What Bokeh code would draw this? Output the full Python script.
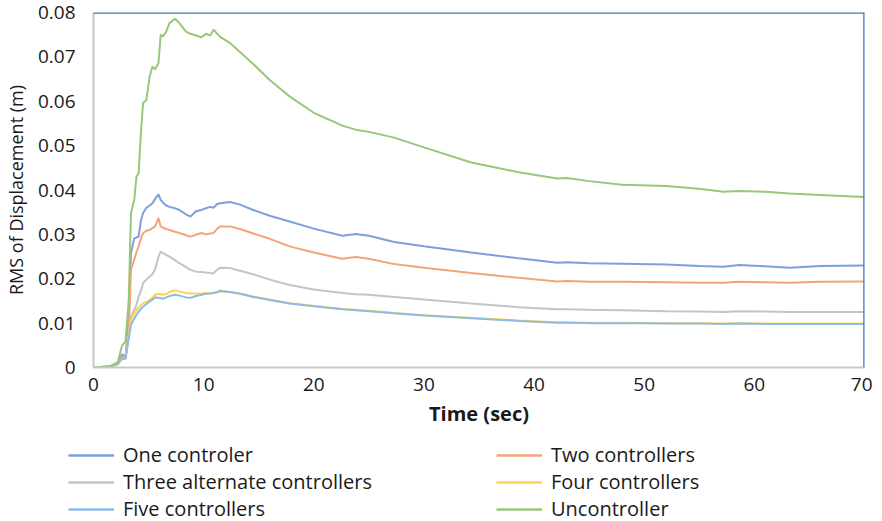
from bokeh.plotting import figure
from bokeh.models import Range1d, Span, Legend, LegendItem, CustomJSTickFormatter, FixedTicker
from bokeh.embed import file_html
from bokeh.resources import INLINE

time_s = [0, 1.5, 2.2, 2.6, 2.9, 3.2, 3.4, 3.7, 3.9, 4.1, 4.3, 4.5, 4.8, 5.1, 5.35, 5.6, 5.9, 6.1, 6.3, 6.6,
          6.9, 7.4, 7.8, 8.4, 8.8, 9.3, 9.8, 10.2, 10.6, 10.9, 11.2, 11.5, 12.4, 13.3, 14.5, 16, 17.8, 20,
          22.6, 23.8, 25, 27.3, 30, 34.3, 38.6, 42.1, 43, 45, 48, 52, 55, 57.2, 58.6, 61, 63.2, 66, 70]

one_controler = [0, 0.0002, 0.0008, 0.003, 0.0022, 0.0115, 0.0258, 0.0291, 0.0293, 0.0295, 0.033, 0.0348, 0.036,
                 0.0365, 0.037, 0.038, 0.039, 0.0378, 0.0372, 0.0365, 0.0362, 0.0359, 0.0355, 0.0345, 0.034,
                 0.0352, 0.0355, 0.0359, 0.0362, 0.036, 0.0368, 0.037, 0.0373, 0.0367, 0.0355, 0.0342, 0.0329,
                 0.0313, 0.0297, 0.0301, 0.0297, 0.0283, 0.0273, 0.0259, 0.0246, 0.0236, 0.0237, 0.0235, 0.0234,
                 0.0232, 0.0229, 0.0227, 0.0231, 0.0228, 0.0225, 0.0229, 0.023]

two_controllers = [0, 0.0002, 0.0008, 0.0025, 0.002, 0.0077, 0.022, 0.0243, 0.026, 0.0273, 0.029, 0.0303, 0.0308,
                   0.031, 0.0314, 0.0318, 0.0337, 0.0318, 0.0315, 0.0312, 0.031, 0.0306, 0.0303, 0.0298, 0.0295,
                   0.0299, 0.0303, 0.03, 0.0302, 0.0303, 0.0312, 0.0318, 0.0318, 0.0312, 0.0302, 0.029, 0.0273,
                   0.0259, 0.0245, 0.0249, 0.0245, 0.0233, 0.0225, 0.0213, 0.0202, 0.0194, 0.0195, 0.0193, 0.0193,
                   0.0192, 0.0191, 0.0191, 0.0193, 0.0192, 0.0191, 0.0193, 0.0194]

three_alternate = [0, 0.0002, 0.0008, 0.002, 0.002, 0.007, 0.0115, 0.013, 0.0141, 0.016, 0.0172, 0.019, 0.0198,
                   0.0205, 0.021, 0.0222, 0.025, 0.0261, 0.0258, 0.0254, 0.025, 0.0242, 0.0235, 0.0226, 0.022,
                   0.0216, 0.0215, 0.0214, 0.0213, 0.0212, 0.022, 0.0225, 0.0224, 0.0218, 0.021, 0.0198, 0.0186,
                   0.0176, 0.0168, 0.0165, 0.0164, 0.0159, 0.0153, 0.0144, 0.0136, 0.0131, 0.0131, 0.013, 0.0129,
                   0.0127, 0.0126, 0.0125, 0.0127, 0.0126, 0.0125, 0.0125, 0.0125]

four_controllers = [0, 0.0002, 0.0008, 0.002, 0.002, 0.007, 0.0107, 0.0122, 0.013, 0.0135, 0.014, 0.0145, 0.0148,
                    0.0152, 0.0158, 0.0164, 0.0166, 0.0165, 0.0164, 0.0166, 0.017, 0.0174, 0.0171, 0.0168, 0.0167,
                    0.0167, 0.0166, 0.0168, 0.0167, 0.0168, 0.0169, 0.0171, 0.017, 0.0167, 0.016, 0.0153, 0.0145,
                    0.0139, 0.0132, 0.013, 0.0128, 0.0123, 0.0118, 0.0112, 0.0106, 0.0102, 0.0102, 0.0101, 0.0101,
                    0.01, 0.01, 0.0099, 0.01, 0.0099, 0.0099, 0.0099, 0.0099]

five_controllers = [0, 0.0002, 0.0008, 0.002, 0.002, 0.0065, 0.0096, 0.011, 0.0119, 0.0126, 0.0132, 0.0137, 0.0143,
                    0.0149, 0.0153, 0.0158, 0.0157, 0.0156, 0.0155, 0.0158, 0.0161, 0.0164, 0.0162, 0.0158, 0.0157,
                    0.0161, 0.0164, 0.0166, 0.0167, 0.0168, 0.017, 0.0173, 0.017, 0.0166, 0.0159, 0.0152, 0.0144,
                    0.0138, 0.0131, 0.0129, 0.0127, 0.0122, 0.0117, 0.0111, 0.0105, 0.0101, 0.0101, 0.01, 0.01,
                    0.0099, 0.0099, 0.0098, 0.0099, 0.0098, 0.0098, 0.0098, 0.0098]

uncontroller = [0, 0.0003, 0.0012, 0.005, 0.0058, 0.0152, 0.0348, 0.0378, 0.043, 0.0438, 0.0528, 0.0596, 0.0603,
                0.0656, 0.0678, 0.0672, 0.0686, 0.075, 0.0746, 0.0757, 0.0776, 0.0786, 0.0776, 0.0757, 0.0752,
                0.0748, 0.0744, 0.0752, 0.0748, 0.0761, 0.0753, 0.0745, 0.0731, 0.0711, 0.0684, 0.0648, 0.0611,
                0.0574, 0.0545, 0.0536, 0.0531, 0.0518, 0.0496, 0.0462, 0.044, 0.0426, 0.0427, 0.042, 0.0412,
                0.0409, 0.0403, 0.0396, 0.0398, 0.0396, 0.0392, 0.0389, 0.0384]

series_names = ["One controler", "Two controllers", "Three alternate controllers",
                "Four controllers", "Five controllers", "Uncontroller"]
series_values = [one_controler, two_controllers, three_alternate, four_controllers, five_controllers, uncontroller]
series_colors = ["#7F9FDB", "#F3A47A", "#C4C4C4", "#FFD34F", "#8DBBE6", "#97C77A"]

x_ticks = [0, 10, 20, 30, 40, 50, 60, 70]
y_ticks = [0, 0.01, 0.02, 0.03, 0.04, 0.05, 0.06, 0.07, 0.08]

FONT = "Open Sans"
TXT = "#1a1a1a"

p = figure(frame_width=771, frame_height=355, output_backend="svg", toolbar_location=None,
           x_range=Range1d(0, 70), y_range=Range1d(0, 0.08),
           min_border_left=87, min_border_right=8, min_border_top=12, min_border_bottom=56)
p.outline_line_color = None
p.grid.visible = False
p.background_fill_color = "white"
p.border_fill_color = "white"

for name, vals, col in zip(series_names, series_values, series_colors):
    p.line(time_s, vals, line_color=col, line_width=2)

for ax in (p.xaxis[0], p.yaxis[0]):
    ax.axis_line_color = "#C8C8C8"
    ax.axis_line_width = 2
    ax.major_tick_line_color = None
    ax.minor_tick_line_color = None
    ax.major_label_text_font = FONT
    ax.major_label_text_font_size = "19px"
    ax.major_label_text_color = TXT
    ax.axis_label_text_font = FONT
    ax.axis_label_text_color = TXT

p.xaxis.ticker = FixedTicker(ticks=x_ticks)
p.yaxis.ticker = FixedTicker(ticks=y_ticks)
p.yaxis.formatter = CustomJSTickFormatter(code="return tick == 0 ? '0' : tick.toFixed(2);")
p.xaxis.axis_label = "Time (sec)"
p.yaxis.axis_label = "RMS of Displacement (m)"
p.xaxis.major_label_standoff = 4
p.yaxis.major_label_standoff = 12
p.xaxis.axis_label_standoff = 6
p.yaxis.axis_label_standoff = 7
p.xaxis.axis_label_text_font_size = "20px"
p.xaxis.axis_label_text_font_style = "bold"
p.yaxis.axis_label_text_font_size = "18px"
p.yaxis.axis_label_text_font_style = "normal"

p.add_layout(Span(location=0.08, dimension="width", line_color="#4472C4", line_width=2.5))
p.add_layout(Span(location=70, dimension="height", line_color="#4472C4", line_width=2.5))

# legend panel below the chart (separate root, proxies drawn outside its range)
lg = figure(width=866, height=95, output_backend="svg", toolbar_location=None,
            x_range=Range1d(0, 1), y_range=Range1d(0, 1), x_axis_type=None, y_axis_type=None,
            min_border=0)
lg.outline_line_color = None
lg.grid.visible = False
items = []
for name, col in zip(series_names, series_colors):
    r = lg.line([-3, -2], [-3, -3], line_color=col, line_width=2.5)
    items.append(LegendItem(label=name, renderers=[r]))
legend = Legend(items=items, ncols=2, location=(68, 2), orientation="horizontal",
                glyph_width=46, glyph_height=20, label_standoff=9, label_width=373, label_height=20,
                spacing=0, padding=0, margin=0,
                label_text_font=FONT, label_text_font_size="20px", label_text_color=TXT,
                border_line_color=None, background_fill_alpha=0)
lg.add_layout(legend, "center")

open("out.html", "w").write(file_html([p, lg], INLINE))
